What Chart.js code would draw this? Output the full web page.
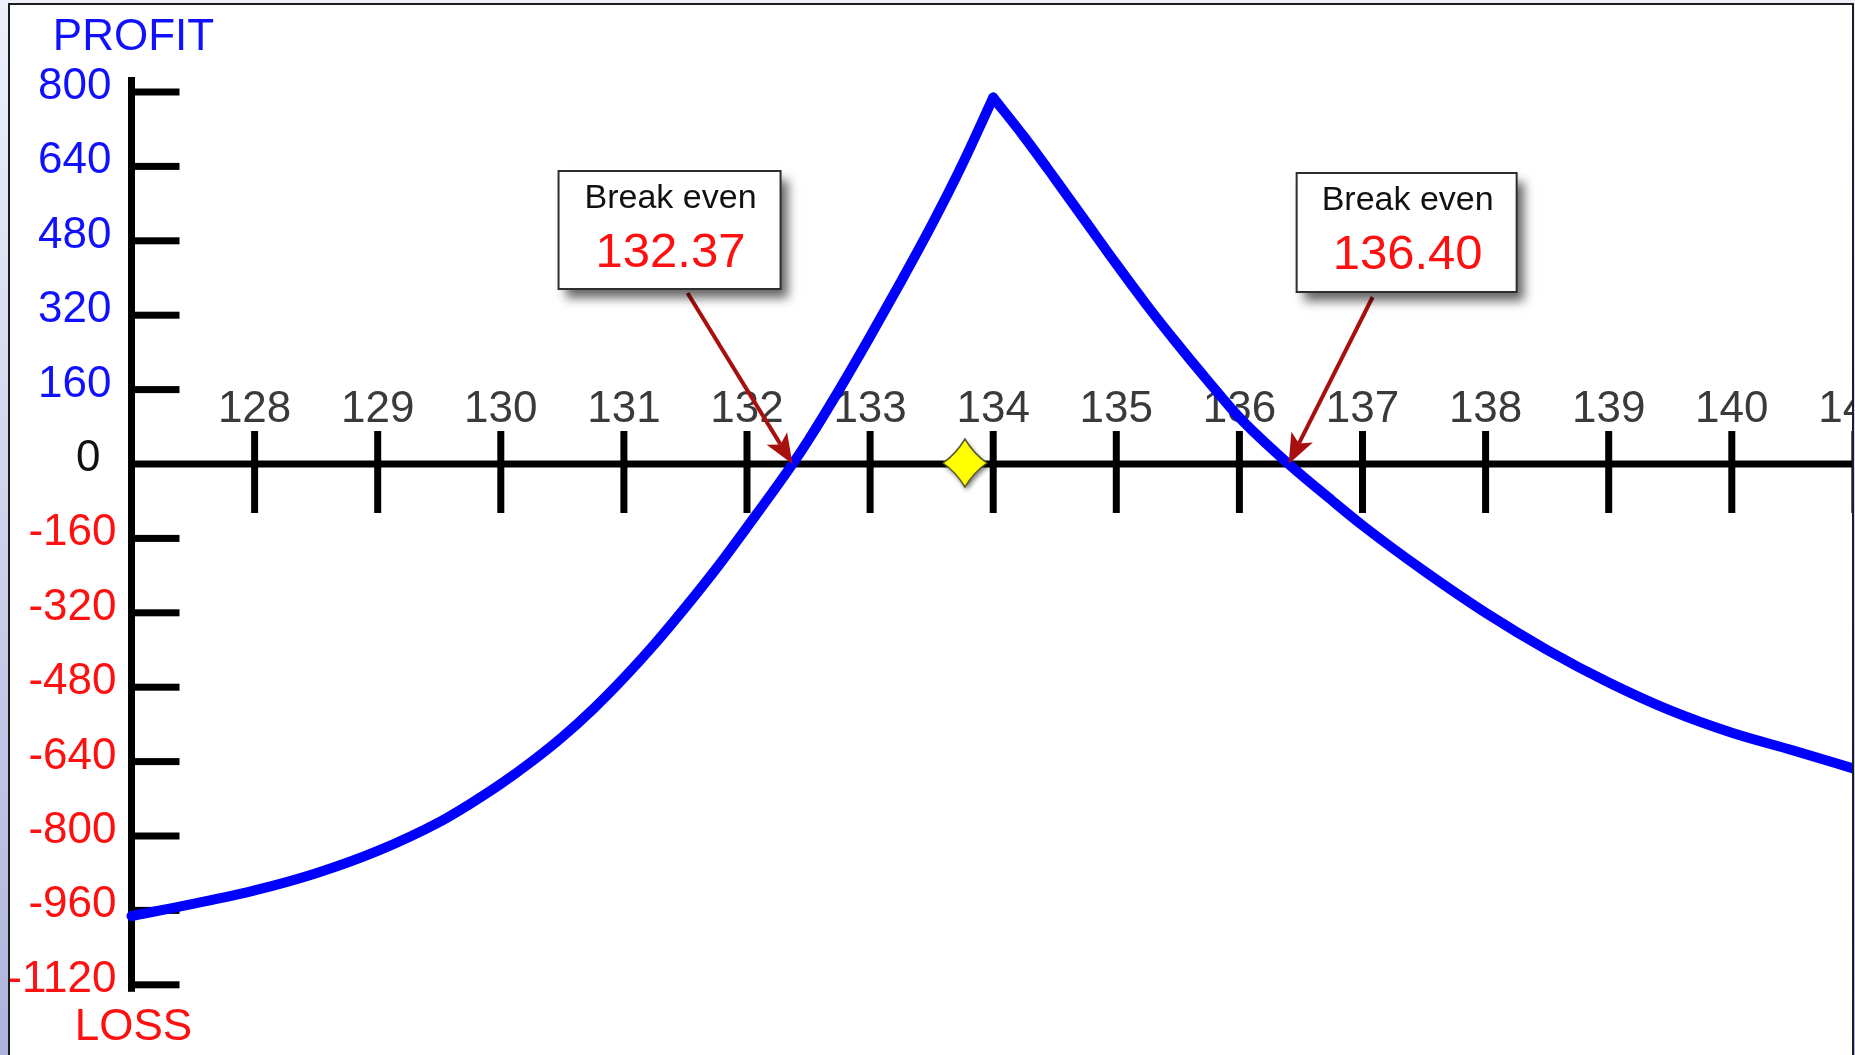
<!DOCTYPE html>
<html>
<head>
<meta charset="utf-8">
<title>Profit / Loss at expiration</title>
<script src="https://cdn.jsdelivr.net/npm/chart.js@4.4.1/dist/chart.umd.min.js"></script>
<style>
  html, body { margin: 0; padding: 0; background: #ffffff; overflow: hidden; }
  #wrap { position: relative; width: 1855px; height: 1055px; }
  canvas { display: block; }
</style>
</head>
<body>
<div id="wrap"><canvas id="payoff" width="1855" height="1055"></canvas></div>
<script>
// ---- data -----------------------------------------------------------------
// underlying price ticks on the horizontal axis
const priceTicks = [128, 129, 130, 131, 132, 133, 134, 135, 136, 137, 138, 139, 140, 141];
// profit / loss ticks on the vertical axis
const profitTicks = [800, 640, 480, 320, 160, 0, -160, -320, -480, -640, -800, -960, -1120];

// rising leg of the payoff curve, up to the peak at 134
const risingPrice  = [127, 127.5, 128, 128.5, 129, 129.5, 129.75, 130, 130.25, 130.5, 130.75, 131,
                      131.25, 131.5, 131.75, 132, 132.37, 132.5, 132.75, 133, 133.25, 133.5, 133.75, 134];
const risingProfit = [-972, -946, -917, -880, -832, -770, -731, -688, -640, -587, -527, -460,
                      -387, -308, -225, -136, 0, 52, 160, 274, 392, 514, 645, 788];
// falling leg of the payoff curve, from the peak onwards
const fallingPrice  = [134, 134.25, 134.5, 134.75, 135, 135.25, 135.5, 135.75, 136, 136.4, 136.75,
                       137, 137.5, 138, 138.5, 139, 139.5, 140, 140.5, 141];
const fallingProfit = [788, 704, 614, 522, 430, 341, 257, 177, 100, 0, -78,
                       -132, -230, -320, -400, -470, -530, -578, -616, -656];

// break-even prices and current underlying price
const breakEvens = [132.37, 136.40];
const breakEvenTitle = 'Break even';
const currentPrice = 133.77;

const axisLabels = { top: 'PROFIT', bottom: 'LOSS' };

// ---- helpers --------------------------------------------------------------
const FONT = '"Liberation Sans", Arial, Helvetica, sans-serif';

function backdropGradient(ctx, h) {
  const g = ctx.createLinearGradient(0, 0, 0, h);
  g.addColorStop(0, '#eef1fb');
  g.addColorStop(1, '#aeb3dc');
  return g;
}

// four-pointed yellow star used as the current-price marker
function makeStar() {
  const c = document.createElement('canvas');
  c.width = 68; c.height = 68;
  const g = c.getContext('2d');
  const cx = 34, cy = 33, rx = 22, ry = 24, k = 9;
  g.beginPath();
  g.moveTo(cx, cy - ry);
  g.quadraticCurveTo(cx + k, cy - k, cx + rx, cy);
  g.quadraticCurveTo(cx + k, cy + k, cx, cy + ry);
  g.quadraticCurveTo(cx - k, cy + k, cx - rx, cy);
  g.quadraticCurveTo(cx - k, cy - k, cx, cy - ry);
  g.closePath();
  g.shadowColor = 'rgba(0,0,0,0.55)';
  g.shadowBlur = 5;
  g.shadowOffsetX = 2;
  g.shadowOffsetY = 3;
  g.fillStyle = '#ffff00';
  g.fill();
  g.shadowColor = 'transparent';
  g.lineWidth = 1.5;
  g.strokeStyle = '#55552a';
  g.stroke();
  return c;
}

function drawArrow(ctx, x1, y1, x2, y2) {
  const a = Math.atan2(y2 - y1, x2 - x1);
  const cos = Math.cos(a), sin = Math.sin(a);
  const head = 30, half = 12, notch = 7;
  const bx = x2 - head * cos, by = y2 - head * sin;
  ctx.save();
  ctx.strokeStyle = '#a80f0f';
  ctx.fillStyle = '#a80f0f';
  ctx.lineWidth = 4;
  ctx.lineCap = 'butt';
  ctx.beginPath();
  ctx.moveTo(x1, y1);
  ctx.lineTo(bx + notch * cos, by + notch * sin);
  ctx.stroke();
  ctx.beginPath();
  ctx.moveTo(x2, y2);
  ctx.lineTo(bx + half * sin, by - half * cos);
  ctx.lineTo(bx + notch * cos, by + notch * sin);
  ctx.lineTo(bx - half * sin, by + half * cos);
  ctx.closePath();
  ctx.fill();
  ctx.restore();
}

// ---- plugin: frame, axes, labels, callouts --------------------------------
const payoffDecor = {
  id: 'payoffDecor',
  beforeDraw(chart) {
    const { ctx, width, height } = chart;
    ctx.save();
    ctx.fillStyle = backdropGradient(ctx, height);
    ctx.fillRect(0, 0, width, height);
    ctx.fillStyle = '#ffffff';
    ctx.fillRect(9, 4, 1844, height - 4);
    ctx.restore();
  },
  beforeDatasetsDraw(chart) {
    const { ctx } = chart;
    const xs = chart.scales.x, ys = chart.scales.y;
    const x0 = xs.getPixelForValue(xs.min);
    const y0 = ys.getPixelForValue(0);
    const yTop = ys.getPixelForValue(profitTicks[0]) - 15;
    const yBot = ys.getPixelForValue(profitTicks[profitTicks.length - 1]) + 7;
    const w = 7;

    ctx.save();
    ctx.fillStyle = '#000000';
    // horizontal (zero) axis and vertical axis
    ctx.fillRect(x0 - w / 2, y0 - w / 2, chart.width - x0 + w, w);
    ctx.fillRect(x0 - w / 2, yTop, w, yBot - yTop);

    // vertical axis ticks point to the right
    profitTicks.forEach(v => {
      if (v === 0) return;
      const py = ys.getPixelForValue(v);
      ctx.fillRect(x0, py - w / 2, 48, w);
    });
    // price ticks cross the zero line
    priceTicks.forEach(v => {
      const px = xs.getPixelForValue(v);
      ctx.fillRect(px - w / 2, y0 - 33, w, 82);
    });

    // profit / loss tick labels
    ctx.font = '44px ' + FONT;
    ctx.textBaseline = 'alphabetic';
    ctx.textAlign = 'right';
    profitTicks.forEach(v => {
      const py = ys.getPixelForValue(v);
      if (v > 0) { ctx.fillStyle = '#1010ff'; ctx.fillText(String(v), x0 - 20, py + 7); }
      else if (v < 0) { ctx.fillStyle = '#ff1010'; ctx.fillText(String(v), x0 - 15, py + 7); }
      else { ctx.fillStyle = '#111111'; ctx.fillText(String(v), x0 - 31, py + 7); }
    });

    // price tick labels
    ctx.font = '44px ' + FONT;
    ctx.textAlign = 'center';
    ctx.fillStyle = '#3a3a3a';
    priceTicks.forEach(v => {
      ctx.fillText(String(v), xs.getPixelForValue(v), y0 - 42);
    });

    // axis titles
    ctx.font = '44px ' + FONT;
    ctx.fillStyle = '#1010ff';
    ctx.fillText(axisLabels.top, x0 + 2, yTop - 27);
    ctx.fillStyle = '#ff1010';
    ctx.fillText(axisLabels.bottom, x0 + 2, yBot + 48);
    ctx.restore();
  },
  afterDatasetsDraw(chart, args, opts) {
    const { ctx } = chart;
    const xs = chart.scales.x, ys = chart.scales.y;
    breakEvens.forEach((v, i) => {
      const lay = opts.callouts[i];
      const tx = xs.getPixelForValue(v), ty = ys.getPixelForValue(0);
      const bx = tx + lay.box[0], by = ty + lay.box[1], bw = lay.box[2], bh = lay.box[3];

      drawArrow(ctx, tx + lay.tail[0], ty + lay.tail[1], tx, ty);

      ctx.save();
      ctx.shadowColor = 'rgba(0,0,0,0.6)';
      ctx.shadowBlur = 10;
      ctx.shadowOffsetX = 7;
      ctx.shadowOffsetY = 9;
      ctx.fillStyle = '#ffffff';
      ctx.fillRect(bx, by, bw, bh);
      ctx.shadowColor = 'transparent';
      ctx.lineWidth = 2;
      ctx.strokeStyle = '#2e2e2e';
      ctx.strokeRect(bx, by, bw, bh);

      ctx.textAlign = 'center';
      ctx.textBaseline = 'alphabetic';
      ctx.font = '34px ' + FONT;
      ctx.fillStyle = '#111111';
      ctx.fillText(breakEvenTitle, bx + bw / 2 + 1, by + 37);
      ctx.font = '49px ' + FONT;
      ctx.fillStyle = '#ff1010';
      ctx.fillText(v.toFixed(2), bx + bw / 2 + 1, by + 96);
      ctx.restore();
    });
  },
  afterDraw(chart) {
    const { ctx, width, height } = chart;
    ctx.save();
    ctx.fillStyle = backdropGradient(ctx, height);
    ctx.fillRect(0, 0, 8, height);
    ctx.fillRect(0, 0, width, 3);
    ctx.fillRect(1854, 0, width - 1854, height);
    ctx.strokeStyle = '#1e1e1e';
    ctx.lineWidth = 2;
    ctx.beginPath();
    ctx.moveTo(9, height);
    ctx.lineTo(9, 4);
    ctx.lineTo(1853, 4);
    ctx.lineTo(1853, height);
    ctx.stroke();
    ctx.restore();
  }
};

// ---- chart ----------------------------------------------------------------
const toPoints = (xs, ys) => xs.map((p, i) => ({ x: p, y: ys[i] }));

// each leg is smoothed on its own so the corner at the peak stays sharp
const legStyle = {
  showLine: true,
  borderColor: '#0000ff',
  borderWidth: 10,
  borderCapStyle: 'round',
  borderJoinStyle: 'round',
  cubicInterpolationMode: 'monotone',
  pointRadius: 0,
  order: 1,
  clip: false
};

new Chart(document.getElementById('payoff'), {
  type: 'scatter',
  data: {
    datasets: [
      {
        label: 'Current price',
        data: [{ x: currentPrice, y: 0 }],
        pointStyle: makeStar(),
        pointRadius: 22,
        order: 0,
        clip: false
      },
      Object.assign({ label: 'Profit / loss (rising)', data: toPoints(risingPrice, risingProfit) }, legStyle),
      Object.assign({ label: 'Profit / loss (falling)', data: toPoints(fallingPrice, fallingProfit) }, legStyle)
    ]
  },
  options: {
    responsive: false,
    devicePixelRatio: 1,
    animation: false,
    events: [],
    layout: { autoPadding: false, padding: { left: 131.5, right: 0.1, top: 92, bottom: 70.2 } },
    scales: {
      x: { type: 'linear', min: 127, max: 141, display: false },
      y: { type: 'linear', min: -1120, max: 800, display: false }
    },
    plugins: {
      legend: { display: false },
      tooltip: { enabled: false },
      payoffDecor: {
        callouts: [
          { box: [-234, -293, 222, 118], tail: [-105, -171] },
          { box: [8, -291, 220, 119], tail: [84, -167] }
        ]
      }
    }
  },
  plugins: [payoffDecor]
});
</script>
</body>
</html>
